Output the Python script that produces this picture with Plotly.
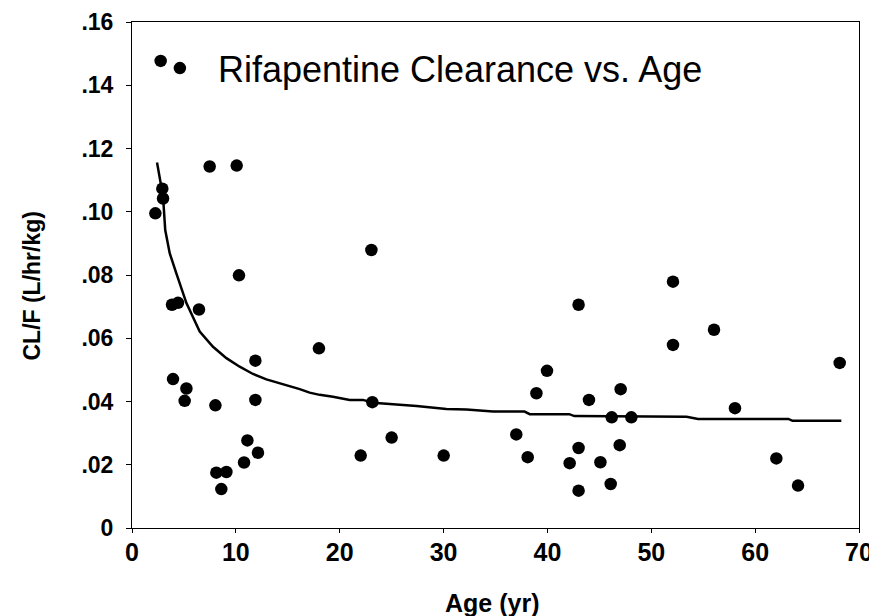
import plotly.graph_objects as go

# Observed data: age (yr) and CL/F (L/hr/kg)
age = [2.76, 7.48, 10.08, 2.92, 2.99, 2.25, 10.3, 3.85, 4.43, 6.45, 11.88, 3.95,
       5.24, 5.07, 8.03, 11.88, 11.11, 12.13, 10.79, 8.12, 9.09, 8.6, 23.05, 43.0,
       18.0, 39.96, 38.94, 44.0, 23.14, 25.0, 37.0, 22.02, 30.01, 38.1, 43.0, 42.14,
       45.1, 43.0, 52.09, 52.09, 56.04, 68.14, 47.05, 58.06, 46.19, 48.08, 46.96,
       62.04, 46.09, 64.13]
clearance = [0.1477, 0.1143, 0.1146, 0.1073, 0.1042, 0.0995, 0.0799, 0.0706, 0.0712,
             0.0691, 0.0529, 0.0471, 0.0441, 0.0402, 0.0388, 0.0405, 0.0277, 0.0238,
             0.0207, 0.0175, 0.0177, 0.0123, 0.0879, 0.0706, 0.0568, 0.0497, 0.0426,
             0.0405, 0.0398, 0.0286, 0.0296, 0.0229, 0.0229, 0.0224, 0.0253, 0.0205,
             0.0208, 0.0118, 0.0779, 0.0579, 0.0627, 0.0522, 0.0439, 0.0379, 0.0350,
             0.0350, 0.0262, 0.0220, 0.0139, 0.0134]

# Fitted curve
fit_age = [2.41, 2.68, 2.99, 3.2, 3.63, 4.27, 4.91, 5.24, 6.52, 7.8, 9.09, 10.37,
           11.65, 12.94, 16.15, 17.1, 18.07, 19.35, 20.96, 22.24, 23.2, 25.1, 27.4,
           30.27, 32.2, 34.76, 37.8, 38.3, 42.1, 42.6, 45.0, 52.1, 53.4, 54.5, 63.2,
           63.6, 68.3]
fit_cl = [0.1156, 0.1100, 0.1048, 0.0942, 0.0869, 0.0805, 0.0742, 0.0711, 0.0621,
          0.0573, 0.0537, 0.0510, 0.0487, 0.0470, 0.0439, 0.0428, 0.0421, 0.0415,
          0.0405, 0.0405, 0.0396, 0.0392, 0.0386, 0.0376, 0.0375, 0.0368, 0.0368,
          0.0360, 0.0360, 0.0354, 0.0354, 0.0352, 0.0352, 0.0345, 0.0345, 0.0339,
          0.0339]

y_ticks = [0, 0.02, 0.04, 0.06, 0.08, 0.10, 0.12, 0.14, 0.16]
y_tick_text = ["0", ".02", ".04", ".06", ".08", ".10", ".12", ".14", ".16"]
x_ticks = [0, 10, 20, 30, 40, 50, 60, 70]

FONT = "Liberation Sans, Arial, sans-serif"

fig = go.Figure()
fig.add_trace(go.Scatter(
    x=fit_age, y=fit_cl, mode="lines",
    line=dict(color="black", width=2.5),
    showlegend=False, hoverinfo="skip"))
fig.add_trace(go.Scatter(
    x=age, y=clearance, mode="markers",
    name="Rifapentine Clearance vs. Age",
    marker=dict(color="black", size=12.5, line=dict(width=0))))

fig.update_layout(
    width=869, height=608,
    margin=dict(l=124, r=18, t=14, b=88, autoexpand=False),
    paper_bgcolor="white", plot_bgcolor="white",
    font=dict(family=FONT, color="black"),
    showlegend=True,
    legend=dict(x=0.0136, y=0.968, xanchor="left", yanchor="top",
                font=dict(family=FONT, size=36, color="black"),
                bgcolor="rgba(0,0,0,0)", itemwidth=66),
    xaxis=dict(range=[0, 70], tickvals=x_ticks, showgrid=False, zeroline=False,
               automargin=False,
               showline=True, linecolor="black", linewidth=1, mirror=True,
               ticks="outside", ticklen=4, tickwidth=1, tickcolor="black",
               tickfont=dict(family=FONT, size=25, color="black", weight="bold"),
               ticklabelstandoff=-2),
    yaxis=dict(range=[0, 0.16], tickvals=y_ticks, ticktext=y_tick_text,
               showgrid=False, zeroline=False, automargin=False,
               showline=True, linecolor="black", linewidth=1, mirror=True,
               ticks="outside", ticklen=5, tickwidth=1, tickcolor="black",
               tickfont=dict(family=FONT, size=23, color="black", weight="bold"),
               ticklabelstandoff=8),
    annotations=[
        dict(text="<b>Age (yr)</b>", xref="paper", yref="paper", x=0.495, y=-0.148,
             xanchor="center", yanchor="middle", showarrow=False,
             font=dict(family=FONT, size=25, color="black")),
        dict(text="<b>CL/F (L/hr/kg)</b>", xref="paper", yref="paper", x=-0.137, y=0.478,
             xanchor="center", yanchor="middle", showarrow=False, textangle=-90,
             font=dict(family=FONT, size=23, color="black")),
    ],
)

fig.write_html("out.html")
